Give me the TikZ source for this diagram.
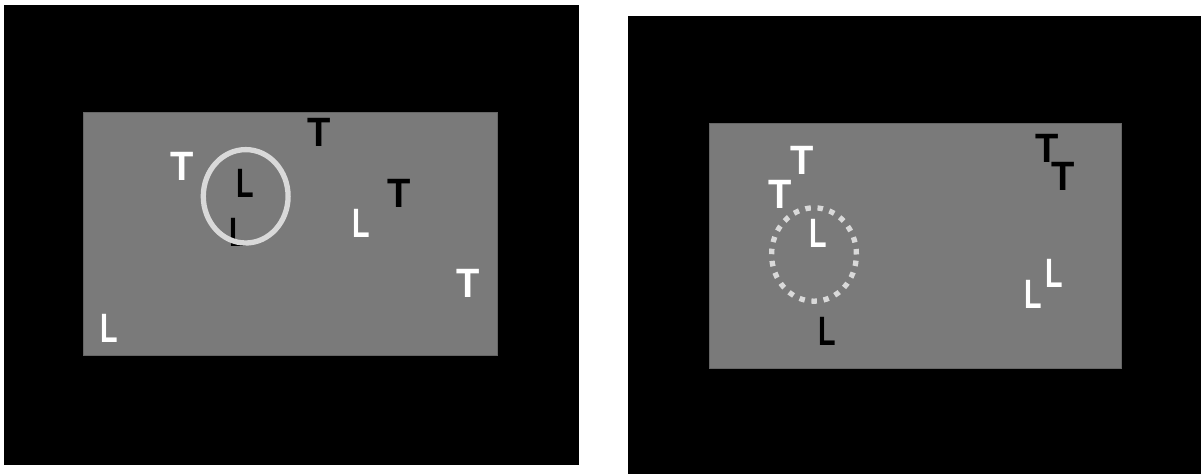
\documentclass[tikz,border=0pt]{standalone}
\usepackage{fontspec}
\setmainfont{Liberation Sans}
\usepackage{xcolor}
\usepackage{tikz}
\usetikzlibrary{shapes.geometric}
\definecolor{fieldgray}{gray}{0.478}
\definecolor{fieldedge}{gray}{0.40}
\definecolor{ringgray}{gray}{0.85}
\newcommand{\letT}{\scalebox{0.93}[1]{T}}
\newcommand{\letL}{\scalebox{0.70}[1]{L}}
\tikzset{
  item/.style={inner sep=0pt, outer sep=0pt, font=\fontsize{41}{41}\selectfont\bfseries},
  witem/.style={item, text=white},
  bitem/.style={item, text=black},
  ring/.style={ellipse, draw=ringgray, line width=5.3pt, minimum width=84.8pt, minimum height=93.4pt, inner sep=0pt},
  dotring/.style={ring, dash pattern=on 5.5pt off 6.7pt}
}

\begin{document}
\begin{tikzpicture}[x=1pt, y=-1pt]
            \useasboundingbox[fill=white] (0,0) rectangle (1201,474);
            \fill[black] (4,5) rectangle (579,465);
            \fill[black] (628,16) rectangle (1201,474);
            \filldraw[fill=fieldgray, draw=fieldedge, line width=1pt] (83,112) rectangle (497,355);
            \filldraw[fill=fieldgray, draw=fieldedge, line width=1pt] (709,123) rectangle (1121,368);
            \node[witem](t1) at (182.5,166) {\letT};
            \node[bitem](l1) at (245,183.5) {\letL};
            \node[bitem](l2) at (238.5,232.5) {\letL};
            \node[bitem](t2) at (319,132.5) {\letT};
            \node[witem](l3) at (361.5,223) {\letL};
            \node[bitem](t3) at (399.5,193.5) {\letT};
            \node[witem](t4) at (468.5,283.5) {\letT};
            \node[witem](l4) at (109.7,328) {\letL};
            \node[ring](ring1) at (245.7,196.3) {};
            \node[witem](t5) at (802,160.5) {\letT};
            \node[witem](t6) at (780,194.5) {\letT};
            \node[witem](l5) at (818,233) {\letL};
            \node[bitem](l6) at (827,331) {\letL};
            \node[bitem](t7) at (1047,148.5) {\letT};
            \node[bitem](t8) at (1063,176) {\letT};
            \node[witem](l7) at (1054,273.5) {\letL};
            \node[witem](l8) at (1033,294.5) {\letL};
            \node[dotring](ring2) at (814,254.5) {};
        \end{tikzpicture}
\end{document}
